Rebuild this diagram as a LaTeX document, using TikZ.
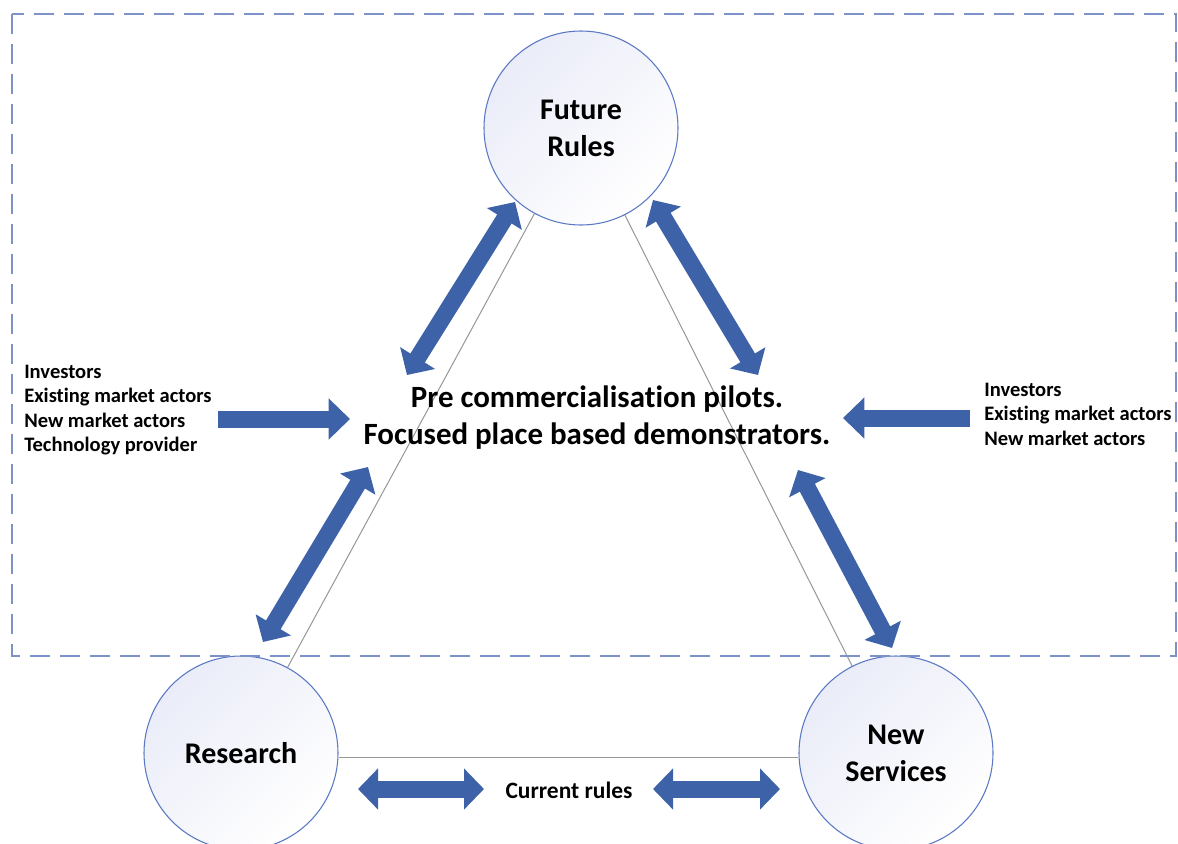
\documentclass[tikz,border=0pt]{standalone}
\usepackage{fontspec}
\setmainfont{Carlito}[Ligatures=NoCommon]
\usetikzlibrary{arrows.meta}
\definecolor{arrowblue}{RGB}{62,98,168}
\definecolor{dashblue}{RGB}{125,147,200}
\definecolor{ringblue}{RGB}{90,120,195}
\definecolor{circfill}{RGB}{234,236,248}
\definecolor{linegrey}{RGB}{150,150,150}
\begin{document}
\begin{tikzpicture}[x=0.75pt,y=-0.75pt,
  hub/.style={circle, draw=ringblue, line width=0.8pt, minimum size=145.5pt, inner sep=0pt,
    top color=circfill, bottom color=white, shading angle=45, align=center,
    font=\fontsize{22.5pt}{27.75pt}\selectfont\bfseries},
  link/.style={draw=linegrey, line width=0.75pt},
  fat/.style={line width=12.75pt, draw=arrowblue,
    {Triangle[length=15pt,width=30pt]}-{Triangle[length=15pt,width=30pt]}},
  onefat/.style={line width=12.75pt, draw=arrowblue, -{Triangle[length=16pt,width=30pt]}},
  listtext/.style={align=left, inner sep=0pt, font=\fontsize{15.4pt}{18.4pt}\selectfont\bfseries},
  frame/.style={draw=dashblue, line width=1.5pt, dash pattern=on 15pt off 7.5pt}
]
\useasboundingbox (0,0) rectangle (1178,843);
\clip (0,0) rectangle (1178,843);

% circles
\node[hub] (fr) at (581,128) {Future\\Rules};
\node[hub] (rs) at (241,753) {Research};
\node[hub] (ns) at (896,753) {New\\Services};

% triangle links
\draw[link] (fr) -- (rs);
\draw[link] (fr) -- (ns);
\draw[link] ([yshift=-3pt]rs.east) -- ([yshift=-3pt]ns.west);

% dashed frame
\draw[frame] (12,14) rectangle (1176,656);

% texts
\node[font=\fontsize{23.2pt}{27.75pt}\selectfont\bfseries, align=center] (pilot) at (597,418)
  {Pre commercialisation pilots.\\Focused place based demonstrators.};
\node[listtext, anchor=west] (lin) at (24,410)
  {Investors\\Existing market actors\\New market actors\\Technology provider};
\node[listtext, anchor=west] (rin) at (984,414)
  {Investors\\Existing market actors\\New market actors};
\node[font=\fontsize{17.6pt}{20pt}\selectfont\bfseries] (cur) at (569,790) {Current rules};

% arrow end points
\coordinate (a1s) at (515,202); \coordinate (a1e) at (407,375);
\coordinate (a2s) at (653,200); \coordinate (a2e) at (758,375);
\coordinate (a3s) at (368,467); \coordinate (a3e) at (263,642);
\coordinate (a4s) at (798,470); \coordinate (a4e) at (892,648);
\coordinate (a5s) at (218,419); \coordinate (a5e) at (350,419);
\coordinate (a6s) at (970,418); \coordinate (a6e) at (843,418);
\coordinate (a7s) at (358,789); \coordinate (a7e) at (484,789);
\coordinate (a8s) at (653,789); \coordinate (a8e) at (780,789);

% arrows
\draw[fat] (a1s) -- (a1e);
\draw[fat] (a2s) -- (a2e);
\draw[fat] (a3s) -- (a3e);
\draw[fat] (a4s) -- (a4e);
\draw[onefat] (a5s) -- (a5e);
\draw[onefat] (a6s) -- (a6e);
\draw[fat] (a7s) -- (a7e);
\draw[fat] (a8s) -- (a8e);
\end{tikzpicture}
\end{document}
